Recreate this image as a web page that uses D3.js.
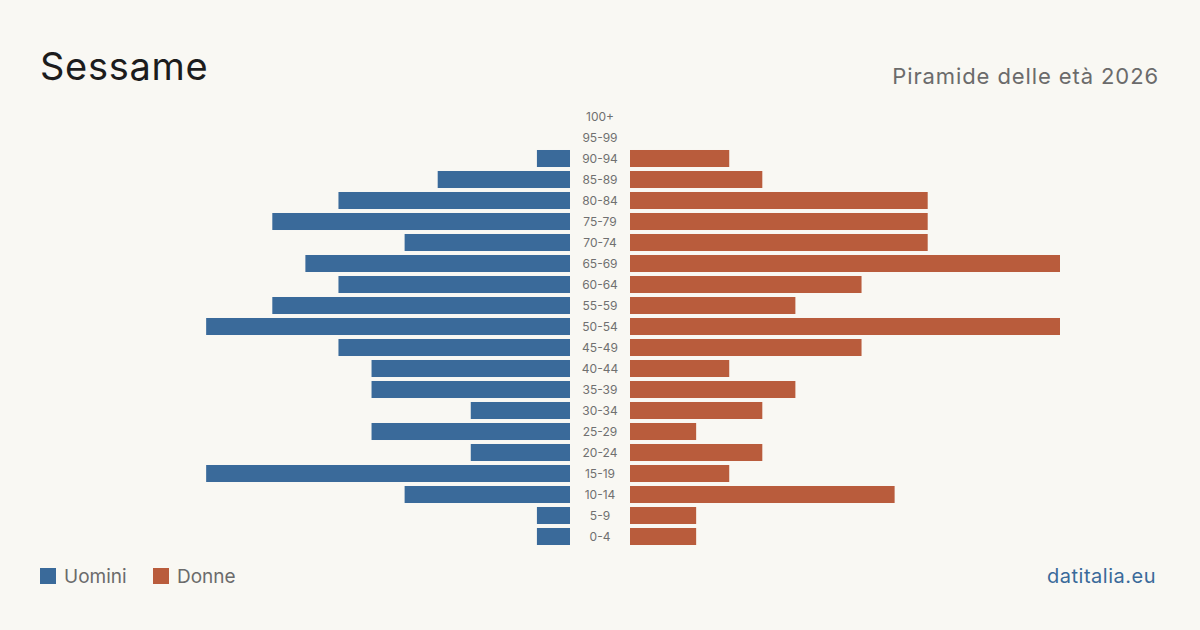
<!DOCTYPE html>
<html>
<head>
<meta charset="utf-8">
<script src="https://cdn.jsdelivr.net/npm/d3@7"></script>
<style>
  body { margin: 0; background: #f9f8f3; }
  svg { display: block; font-family: Inter, "Noto Sans", sans-serif; }
</style>
</head>
<body>
<svg id="chart" width="1200" height="630"></svg>
<script>
// age classes, top to bottom
var ageGroups = ["100+", "95-99", "90-94", "85-89", "80-84", "75-79", "70-74", "65-69", "60-64",
  "55-59", "50-54", "45-49", "40-44", "35-39", "30-34", "25-29", "20-24", "15-19", "10-14", "5-9", "0-4"]
var men = [0, 0, 1, 4, 7, 9, 5, 8, 7, 9, 11, 7, 6, 6, 3, 6, 3, 11, 5, 1, 1]
var women = [0, 0, 3, 4, 9, 9, 9, 13, 7, 5, 13, 7, 3, 5, 4, 2, 4, 3, 8, 2, 2]
var legendItems = ["Uomini", "Donne"]

var colors = { men: "#3a6a9a", women: "#b95c3c" }
var width = 1200
var center = 600
var gap = 30

var svg = d3.select("#chart")
svg.append("rect").attr("width", width).attr("height", 630).attr("fill", "#f9f8f3")

svg.append("text")
  .attr("x", 40).attr("y", 80)
  .attr("font-size", 38)
  .attr("letter-spacing", 0.7)
  .attr("fill", "#1c1c1c")
  .text("Sessame")

svg.append("text")
  .attr("x", 1159).attr("y", 84)
  .attr("text-anchor", "end")
  .attr("font-size", 22)
  .attr("letter-spacing", 0.9)
  .attr("fill", "#6b6b6b")
  .text("Piramide delle età 2026")

var y = d3.scaleBand()
  .domain(ageGroups)
  .range([106, 547])
  .paddingInner(0.19)
  .paddingOuter(0.095)

var maxVal = d3.max(men.concat(women))
var x = d3.scaleLinear().domain([0, maxVal]).range([0, 430])

var rows = ageGroups.map(function(a, i) {
  return { age: a, m: men[i], f: women[i] }
})

svg.append("g").selectAll("rect")
  .data(rows)
  .enter()
  .append("rect")
  .attr("x", function(d) { return center - gap - x(d.m) })
  .attr("y", function(d) { return y(d.age) })
  .attr("width", function(d) { return x(d.m) })
  .attr("height", y.bandwidth())
  .attr("fill", colors.men)

svg.append("g").selectAll("rect")
  .data(rows)
  .enter()
  .append("rect")
  .attr("x", center + gap)
  .attr("y", function(d) { return y(d.age) })
  .attr("width", function(d) { return x(d.f) })
  .attr("height", y.bandwidth())
  .attr("fill", colors.women)

svg.append("g").selectAll("text")
  .data(rows)
  .enter()
  .append("text")
  .attr("x", center)
  .attr("y", function(d) { return y(d.age) + y.bandwidth() / 2 })
  .attr("dy", "0.35em")
  .attr("text-anchor", "middle")
  .attr("font-size", 12)
  .attr("fill", "#707070")
  .text(function(d) { return d.age })

// legend
var legend = svg.append("g")
var lx = [40, 153]
legendItems.forEach(function(name, i) {
  legend.append("rect")
    .attr("x", lx[i]).attr("y", 568)
    .attr("width", 16).attr("height", 16)
    .attr("fill", i === 0 ? colors.men : colors.women)
  legend.append("text")
    .attr("x", lx[i] + 24).attr("y", 583)
    .attr("font-size", 19)
    .attr("fill", "#6b6b6b")
    .text(name)
})

svg.append("text")
  .attr("x", 1156).attr("y", 583)
  .attr("text-anchor", "end")
  .attr("font-size", 20)
  .attr("letter-spacing", 0.5)
  .attr("fill", colors.men)
  .text("datitalia.eu")
</script>
</body>
</html>
